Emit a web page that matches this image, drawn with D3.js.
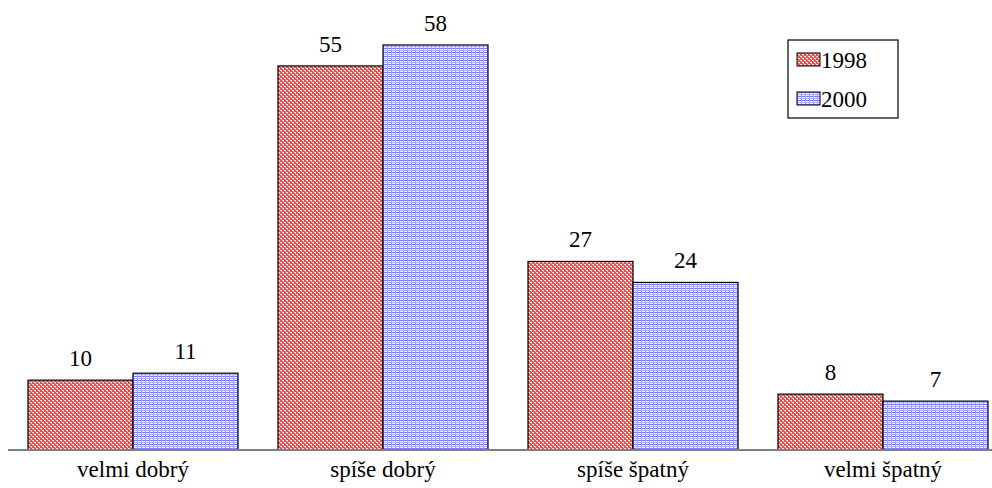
<!DOCTYPE html>
<html>
<head>
<meta charset="utf-8">
<script src="https://cdn.jsdelivr.net/npm/d3@7/dist/d3.min.js"></script>
<style>
  body { margin: 0; background: #fff; }
  #chart text { font-family: "Liberation Serif"; }
</style>
</head>
<body>
<svg id="chart" width="992" height="488"></svg>
<script>
const categories = ["velmi dobrý", "spíše dobrý", "spíše špatný", "velmi špatný"];
const seriesNames = ["1998", "2000"];
const values1998 = [10, 55, 27, 8];
const values2000 = [11, 58, 24, 7];

const svg = d3.select("#chart");
const defs = svg.append("defs");

// Red dotted fill for 1998
const pRed = defs.append("pattern").attr("id", "pat1998")
  .attr("patternUnits", "userSpaceOnUse").attr("width", 4).attr("height", 4);
pRed.append("rect").attr("width", 4).attr("height", 4).attr("fill", "#ff4848");
pRed.append("rect").attr("x", 0).attr("y", 0).attr("width", 2).attr("height", 1).attr("fill", "#ffe8e8");
pRed.append("rect").attr("x", 2).attr("y", 2).attr("width", 2).attr("height", 1).attr("fill", "#ffe8e8");
pRed.append("rect").attr("x", 1).attr("y", 1).attr("width", 1).attr("height", 1).attr("fill", "#ffb0b0");
pRed.append("rect").attr("x", 3).attr("y", 3).attr("width", 1).attr("height", 1).attr("fill", "#ffb0b0");

// Blue grid-like fill for 2000
const pBlue = defs.append("pattern").attr("id", "pat2000")
  .attr("patternUnits", "userSpaceOnUse").attr("width", 4).attr("height", 4);
pBlue.append("rect").attr("width", 4).attr("height", 4).attr("fill", "#ececff");
pBlue.append("rect").attr("x", 0).attr("y", 0).attr("width", 4).attr("height", 1).attr("fill", "#7878ff");
pBlue.append("rect").attr("x", 0).attr("y", 2).attr("width", 4).attr("height", 1).attr("fill", "#b4b4ff");
pBlue.append("rect").attr("x", 1).attr("y", 0).attr("width", 1).attr("height", 4).attr("fill", "#a0a0ff");

const fills = { "1998": "url(#pat1998)", "2000": "url(#pat2000)" };
const fontSize = 23;

const baseline = 450;
const x = d3.scaleBand().domain(categories).range([8, 1008]);
const xs = d3.scaleBand().domain(seriesNames).range([20, 230]);
const y = d3.scaleLinear().domain([0, 60]).range([baseline, 31]);

const rows = categories.map((c, i) => ({ cat: c, vals: [
  { s: "1998", v: values1998[i] },
  { s: "2000", v: values2000[i] }
]}));

const groups = svg.append("g").selectAll("g").data(rows).join("g")
  .attr("transform", d => `translate(${x(d.cat)},0)`);

groups.selectAll("rect").data(d => d.vals).join("rect")
  .attr("x", d => xs(d.s))
  .attr("y", d => y(d.v))
  .attr("width", xs.bandwidth())
  .attr("height", d => baseline - y(d.v))
  .attr("fill", d => fills[d.s])
  .attr("stroke", "#000")
  .attr("stroke-width", 1.2);

groups.selectAll("text").data(d => d.vals).join("text")
  .attr("x", d => xs(d.s) + xs.bandwidth() / 2)
  .attr("y", d => y(d.v) - 14)
  .attr("text-anchor", "middle")
  .attr("font-size", fontSize)
  .style("font-family", '"Liberation Serif"')
  .text(d => d.v);

// Category labels under the baseline
svg.append("g").selectAll("text").data(categories).join("text")
  .attr("x", d => x(d) + x.bandwidth() / 2)
  .attr("y", baseline + 27)
  .attr("text-anchor", "middle")
  .attr("font-size", fontSize)
  .style("font-family", '"Liberation Serif"')
  .text(d => d);

svg.append("line").attr("x1", 8).attr("x2", 992).attr("y1", baseline).attr("y2", baseline)
  .attr("stroke", "#808080").attr("stroke-width", 2);

// Legend
const legend = svg.append("g").attr("transform", "translate(788,40)");
legend.append("rect").attr("x", 0).attr("y", 0).attr("width", 110).attr("height", 78)
  .attr("fill", "#fff").attr("stroke", "#000").attr("stroke-width", 1.2);
legend.selectAll("rect.sw").data(seriesNames).join("rect").attr("class", "sw")
  .attr("x", 9).attr("y", (d, i) => 13 + i * 39).attr("width", 23).attr("height", 13)
  .attr("fill", d => fills[d]).attr("stroke", "#000").attr("stroke-width", 1);
legend.selectAll("text").data(seriesNames).join("text")
  .attr("x", 33).attr("y", (d, i) => 28 + i * 39)
  .attr("font-size", fontSize)
  .style("font-family", '"Liberation Serif"')
  .text(d => d);
</script>
</body>
</html>
